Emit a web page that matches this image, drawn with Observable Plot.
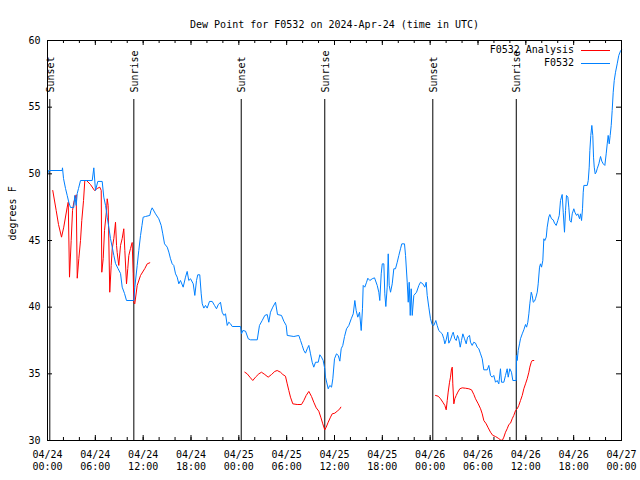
<!DOCTYPE html>
<html><head><meta charset="utf-8">
<script src="https://cdn.jsdelivr.net/npm/d3@7"></script>
<script src="https://cdn.jsdelivr.net/npm/@observablehq/plot@0.6"></script>
<style>
html,body{margin:0;padding:0;background:#fff;}
#chart svg{display:block;}
</style></head><body><div id="chart"></div>
<script>
const startDate = "2024-04-24T00:00:00Z";
const endDate = "2024-04-27T00:00:00Z";
const titleText = "Dew Point for F0532 on 2024-Apr-24 (time in UTC)";
const yLabel = "degrees F";
const yTicks = [30, 35, 40, 45, 50, 55, 60];
const seriesNames = ["F0532 Analysis", "F0532"];
const seriesColors = ["#ff0000", "#0080ff"];
const sunHours = [0.29, 10.83, 24.3, 34.78, 48.33, 58.8];
const sunLabels = ["Sunset", "Sunrise", "Sunset", "Sunrise", "Sunset", "Sunrise"];

// F0532 observations: [hours since 04/24 00:00 UTC, dew point F]
const obsSeries = [
[0,49.95],[0.13,50.25],[1.84,50.25],[1.88,50.45],[2.01,49.65],[2.26,48.9],[2.47,48.38],[2.67,47.87],[2.88,47.48],[3.30,47.48],
[3.42,48.38],[3.60,47.63],[3.73,48.53],[3.89,48.9],[4.14,49.5],[5.61,49.5],[5.81,50.45],[6.02,48.75],[6.31,49.43],[6.86,49.43],
[7.06,48.25],[7.28,47.63],[7.49,46.75],[7.69,46.0],[7.90,45.15],[8.12,44.5],[8.32,43.88],[8.53,43.28],[8.84,42.9],[9.16,42.53],
[9.37,41.5],[9.66,41.03],[9.91,40.5],[10.75,40.5],[10.83,40.5],[10.95,41.48],[11.25,43.13],[11.45,44.25],[11.67,45.38],[11.85,46.13],
[12.00,46.75],[12.29,46.8],[12.83,46.88],[12.98,47.25],[13.13,47.45],[13.55,47.0],[13.96,46.63],[14.26,46.13],[14.46,45.5],[14.68,44.75],
[15.02,44.5],[15.22,44.13],[15.43,43.63],[15.64,43.25],[15.84,43.13],[16.06,42.5],[16.27,42.25],[16.47,41.75],[16.68,42.0],[17.02,41.5],
[17.31,42.25],[17.52,42.68],[17.72,42.0],[17.94,42.13],[18.28,41.75],[18.48,40.88],[18.69,42.0],[18.85,42.43],[19.10,42.43],[19.28,41.0],
[19.41,40.25],[19.61,39.93],[19.82,40.13],[20.03,39.93],[20.32,40.43],[20.66,40.43],[20.95,40.13],[21.20,39.88],[21.41,40.18],[21.70,40.37],
[21.91,39.62],[22.12,39.38],[22.33,39.5],[22.54,38.63],[22.74,38.87],[22.96,38.75],[23.17,38.55],[24.21,38.55],[24.34,38.0],[24.50,38.25],
[24.84,38.2],[25.18,37.63],[25.47,37.55],[26.31,37.55],[26.59,38.63],[26.93,39.0],[27.26,39.38],[27.56,39.45],[27.76,38.87],[27.97,39.62],
[28.26,40.0],[28.60,40.37],[28.85,39.45],[29.35,39.38],[29.64,38.95],[29.94,38.63],[30.07,37.88],[30.90,37.8],[31.52,37.88],[31.74,37.5],
[31.95,37.13],[32.15,36.75],[32.36,36.55],[32.58,36.88],[32.78,37.13],[32.99,36.5],[33.20,35.87],[33.40,35.5],[33.62,35.87],[33.96,35.87],
[34.16,36.43],[34.37,36.25],[34.58,36.0],[34.78,35.38],[34.87,34.75],[35.21,33.88],[35.41,34.13],[35.63,34.0],[35.79,34.63],[36.00,36.13],
[36.25,36.5],[36.47,36.38],[36.67,35.95],[36.84,36.88],[37.04,37.13],[37.26,37.8],[37.51,38.38],[37.80,38.63],[38.10,39.13],[38.35,39.5],
[38.55,40.5],[38.72,39.75],[38.92,39.25],[39.14,39.62],[39.35,38.25],[39.51,39.88],[39.60,41.63],[39.80,41.5],[40.02,41.87],[40.18,42.17],
[40.43,42.0],[40.73,42.13],[41.02,42.2],[41.36,41.63],[41.56,41.12],[41.68,40.5],[41.86,42.5],[41.99,43.25],[42.19,43.25],[42.31,41.0],
[42.44,40.05],[42.61,41.5],[42.74,44.0],[42.86,41.63],[43.03,41.12],[43.24,41.75],[43.44,42.88],[43.65,42.88],[43.87,43.37],[44.07,43.88],
[44.28,44.38],[44.44,44.75],[44.78,44.75],[44.91,43.88],[45.12,41.87],[45.25,40.37],[45.37,41.87],[45.50,39.38],[45.62,41.38],[45.75,39.38],
[45.95,40.88],[46.29,41.12],[46.58,41.63],[46.79,41.87],[47.08,41.75],[47.33,41.5],[47.50,41.87],[47.63,40.88],[47.83,40.0],[48.04,39.13],
[48.26,38.68],[48.46,38.63],[48.71,39.0],[48.88,38.63],[49.08,38.25],[49.30,38.12],[49.51,38.0],[49.71,37.63],[49.84,37.25],[50.01,37.55],
[50.21,38.12],[50.34,37.3],[50.55,37.55],[50.77,37.95],[50.89,38.12],[51.09,37.63],[51.27,37.5],[51.43,37.88],[51.59,37.63],[51.77,37.0],
[51.93,37.5],[52.10,38.0],[52.31,37.63],[52.52,37.25],[52.69,37.75],[52.94,37.88],[53.06,37.37],[53.27,37.13],[53.47,37.37],[53.69,37.3],
[53.90,37.0],[54.10,36.88],[54.32,36.5],[54.53,36.13],[54.73,35.3],[55.16,35.3],[55.36,35.63],[55.57,34.88],[55.78,34.75],[55.98,34.88],
[56.20,34.37],[56.41,34.5],[56.61,34.25],[56.82,35.38],[56.95,34.37],[57.24,34.37],[57.45,34.88],[57.66,35.38],[57.79,34.75],[57.99,35.38],
[58.20,35.12],[58.37,34.5],[58.79,34.5],[58.83,36.38],[58.92,36.0],[59.04,36.75],[59.21,37.25],[59.33,37.63],[59.55,38.0],[59.75,38.3],
[59.96,38.7],[60.09,38.5],[60.25,38.87],[60.38,39.5],[60.50,40.25],[60.68,41.12],[60.80,40.88],[60.93,40.37],[61.09,40.45],[61.21,40.63],
[61.43,41.12],[61.55,41.75],[61.72,43.0],[61.84,43.25],[61.97,43.0],[62.13,43.5],[62.26,45.13],[62.38,45.0],[62.56,45.25],[62.68,46.0],
[62.88,46.75],[63.01,46.95],[63.22,46.63],[63.43,46.55],[63.60,46.3],[63.81,46.13],[64.01,46.5],[64.19,46.88],[64.35,48.0],[64.56,48.45],
[64.69,47.12],[64.85,45.62],[64.98,47.25],[65.10,48.38],[65.27,48.25],[65.39,47.5],[65.52,46.5],[65.69,46.37],[65.82,47.0],[66.02,47.38],
[66.15,47.12],[66.36,46.88],[66.52,47.0],[66.74,46.63],[66.86,47.0],[66.99,46.5],[67.11,47.38],[67.20,48.62],[67.28,49.13],[67.70,49.13],
[67.83,49.5],[67.95,50.5],[68.03,51.75],[68.15,52.88],[68.28,53.63],[68.40,52.88],[68.49,51.25],[68.58,50.5],[68.70,50.0],[68.83,50.12],
[68.95,50.38],[69.16,50.75],[69.37,51.3],[69.53,50.95],[69.71,50.75],[69.91,50.63],[70.08,51.5],[70.21,52.25],[70.33,52.88],[70.46,52.25],
[70.58,52.88],[70.71,53.63],[70.83,54.75],[70.96,56.12],[71.09,57.0],[71.25,57.62],[71.46,58.25],[71.66,58.88],[71.87,59.2],[72.0,59.3]
];

// F0532 Analysis: [hours, dew point F]; null marks a gap
const anaSeries = [
[0.66,48.75],[1.09,47.25],[1.38,46.2],[1.76,45.25],[2.04,46.0],[2.47,47.5],[2.60,47.87],[2.76,42.25],[2.97,45.0],[3.14,47.25],
[3.30,47.87],[3.60,48.43],[3.73,42.17],[3.93,43.65],[4.14,45.0],[4.30,46.5],[4.52,48.0],[4.68,49.5],[4.89,49.5],[5.39,49.2],
[5.90,48.75],[6.23,48.9],[6.56,49.0],[6.74,48.75],[6.81,42.62],[6.99,43.65],[7.15,45.75],[7.40,47.25],[7.49,48.13],[7.61,47.63],
[7.81,41.12],[7.99,43.13],[8.12,44.4],[8.32,45.15],[8.53,46.37],[8.66,44.63],[8.74,44.1],[8.94,43.13],[9.16,44.63],[9.37,45.15],
[9.57,45.88],[9.70,44.25],[9.91,41.75],[10.07,42.9],[10.20,43.88],[10.41,44.4],[10.62,44.85],[10.75,42.53],[10.83,40.37],[10.95,40.25],
[11.25,41.63],[11.67,42.38],[12.21,42.9],[12.51,43.25],[12.83,43.33],
[18.0,null],
[24.75,35.12],[25.05,35.0],[25.46,34.7],[25.75,34.5],[26.09,34.75],[26.51,35.0],[26.84,35.12],[27.26,34.95],[27.68,34.75],[28.10,34.95],
[28.51,35.18],[28.81,35.25],[29.23,35.12],[29.52,34.95],[29.85,34.82],[30.07,34.25],[30.27,33.75],[30.48,33.25],[30.77,32.75],[31.32,32.7],
[31.86,32.7],[32.15,33.0],[32.45,33.38],[32.78,33.68],[33.12,33.3],[33.40,32.87],[33.71,32.45],[34.03,32.2],[34.28,31.75],[34.53,31.25],
[34.78,30.8],[34.96,31.0],[35.21,31.37],[35.50,31.75],[35.71,32.0],[36.04,32.05],[36.34,32.2],[36.67,32.37],[36.79,32.5],
[42.0,null],
[48.67,33.38],[49.01,33.32],[49.30,33.13],[49.59,32.87],[49.84,32.63],[50.01,32.3],[50.14,33.0],[50.26,33.63],[50.43,34.37],[50.55,34.75],
[50.68,35.38],[50.77,35.5],[50.84,34.25],[50.97,32.75],[51.09,33.13],[51.27,33.38],[51.47,33.63],[51.72,33.88],[52.02,33.95],[52.43,33.92],
[52.85,33.88],[53.19,33.8],[53.48,33.45],[53.69,33.13],[54.03,32.75],[54.32,32.38],[54.53,32.0],[54.73,31.5],[55.03,31.25],[55.28,30.95],
[55.57,30.62],[55.86,30.38],[56.20,30.3],[56.54,30.17],[56.82,30.05],[57.04,30.0],[57.24,30.25],[57.45,30.62],[57.66,30.88],[57.87,31.2],
[58.08,31.3],[58.29,31.63],[58.49,31.88],[58.71,32.25],[58.92,32.38],[59.12,32.63],[59.33,33.0],[59.55,33.38],[59.75,33.88],[59.96,34.25],
[60.17,34.63],[60.38,35.12],[60.50,35.5],[60.68,35.87],[60.80,36.0],[61.0,36.0]
];

const base = Date.parse(startDate);
const toDate = h => new Date(base + h * 3600000);
const start = new Date(startDate), end = new Date(endDate);
const obs = obsSeries.map(([h, v]) => ({t: toDate(h), v}));
const ana = anaSeries.map(([h, v]) => ({t: toDate(h), v: v == null ? NaN : v}));
const sun = sunHours.map((h, i) => ({t: toDate(h), label: sunLabels[i]}));
const majorTicks = d3.utcHour.every(6).range(start, new Date(+end + 1));
const minorTicks = d3.utcHour.every(2).range(start, new Date(+end + 1));

const W = 640, H = 480, mL = 47, mR = 19, mT = 40, mB = 40;
const fw = W - mL - mR, fh = H - mT - mB;
const font = "'DejaVu Sans Mono', 'Liberation Mono', monospace";

const plot = Plot.plot({
  width: W, height: H,
  marginLeft: mL, marginRight: mR, marginTop: mT, marginBottom: mB,
  style: {fontFamily: font, fontSize: "10px", background: "#fff", color: "#000", overflow: "visible"},
  x: {type: "utc", domain: [start, end]},
  y: {domain: [30, 60]},
  marks: [
    Plot.ruleX(sun, {x: "t", insetTop: 59, stroke: "#000", strokeWidth: 1}),
    Plot.text(sun, {x: "t", text: "label", frameAnchor: "top", rotate: -90, textAnchor: "start", lineAnchor: "middle", dy: 52, dx: 1, fill: "#000"}),
    Plot.ruleX(minorTicks, {x: d => d, insetTop: fh - 3, stroke: "#000"}),
    Plot.ruleX(minorTicks, {x: d => d, insetBottom: fh - 3, stroke: "#000"}),
    Plot.ruleX(majorTicks, {x: d => d, insetTop: fh - 5, stroke: "#000"}),
    Plot.ruleX(majorTicks, {x: d => d, insetBottom: fh - 5, stroke: "#000"}),
    Plot.ruleY(yTicks, {y: d => d, insetRight: fw - 5, stroke: "#000"}),
    Plot.ruleY(yTicks, {y: d => d, insetLeft: fw - 5, stroke: "#000"}),
    Plot.axisX({ticks: majorTicks, tickSize: 0, tickPadding: 9, tickFormat: d3.utcFormat("%m/%d\n%H:%M"), label: null, lineHeight: 1.2}),
    Plot.axisY({ticks: yTicks, tickSize: 0, tickPadding: 7, label: null}),
    Plot.line(ana, {x: "t", y: "v", stroke: seriesColors[0], strokeWidth: 1}),
    Plot.line(obs, {x: "t", y: "v", stroke: seriesColors[1], strokeWidth: 1}),
    Plot.frame({stroke: "#000", strokeWidth: 1}),
    Plot.text([titleText], {frameAnchor: "top", dy: -20, fill: "#000"}),
    Plot.text([yLabel], {frameAnchor: "left", dx: -35, rotate: -90, fill: "#000"})
  ]
});

// legend inside top-right of the frame
const svg = d3.select(plot);
const lg = svg.append("g").attr("font-family", font).attr("font-size", 10);
seriesNames.forEach((name, i) => {
  const y = mT + 9.5 + i * 13;
  lg.append("text").attr("x", mL + fw - 47).attr("y", y).attr("dy", "0.35em")
    .attr("text-anchor", "end").attr("fill", "#000").text(name);
  lg.append("line").attr("x1", mL + fw - 40).attr("x2", mL + fw - 11)
    .attr("y1", Math.round(y) + 0.5).attr("y2", Math.round(y) + 0.5)
    .attr("stroke", seriesColors[i]).attr("stroke-width", 1);
});

document.getElementById("chart").appendChild(plot);
</script>
</body></html>
